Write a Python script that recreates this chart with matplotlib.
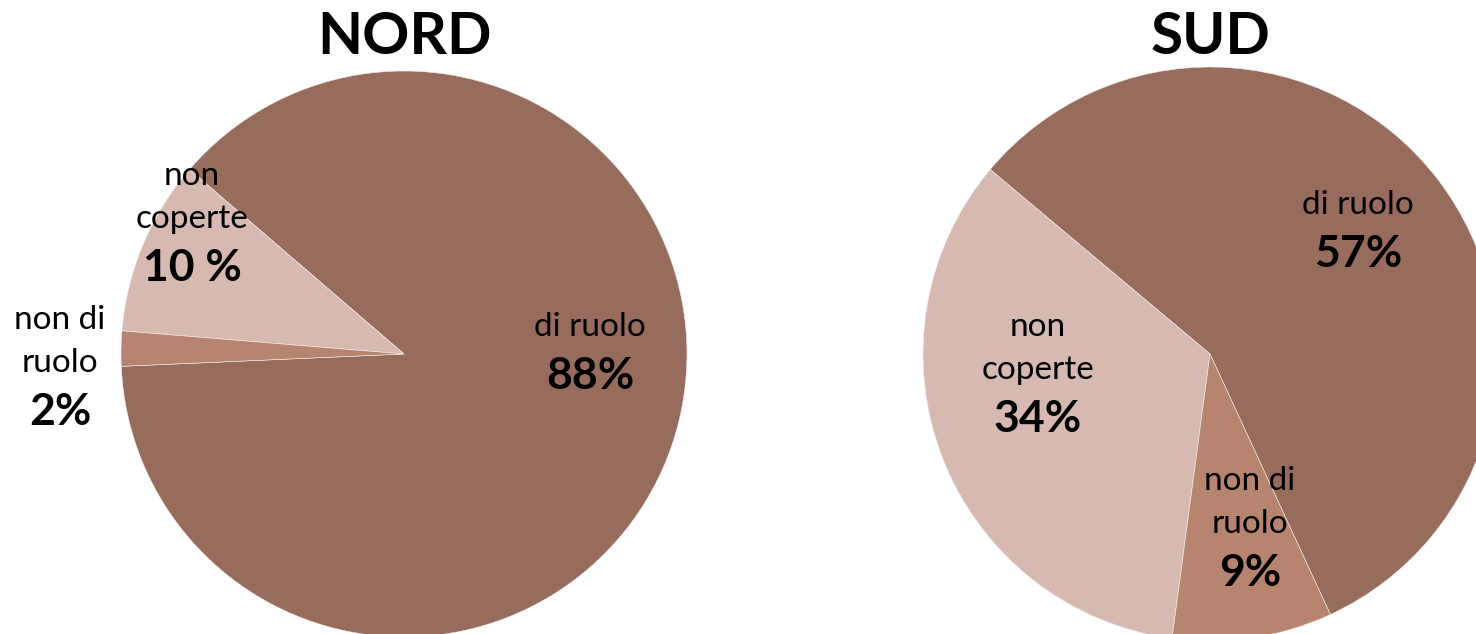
import matplotlib
matplotlib.use("Agg")
import matplotlib.pyplot as plt

# data
categories = ["di ruolo", "non coperte", "non di ruolo"]
nord_values = [88, 10, 2]
sud_values = [57, 34, 9]
nord_labels = ["di ruolo\n88%", "non\ncoperte\n10 %", "non di\nruolo\n2%"]
sud_labels = ["di ruolo\n57%", "non\ncoperte\n34%", "non di\nruolo\n9%"]

colors = ["#976c5d", "#d6bab2", "#b6846f"]

plt.rcParams['font.family'] = ['Lato', 'DejaVu Sans']

W, H = 1476, 634
fig = plt.figure(figsize=(W / 100, H / 100), dpi=100)
ax = fig.add_axes([0, 0, 1, 1])

# pies drawn in pixel-like data space (y up)
ax.pie(nord_values, colors=colors, startangle=182.5, counterclock=True,
       center=(404, H - 354), radius=283,
       wedgeprops=dict(edgecolor="#f4eeec", linewidth=0.4))
ax.pie(sud_values, colors=colors, startangle=294.8, counterclock=True,
       center=(1210, H - 354), radius=287,
       wedgeprops=dict(edgecolor="#f4eeec", linewidth=0.4))

ax.set_xlim(0, W)
ax.set_ylim(0, H)
ax.set_aspect("equal")
ax.axis("off")


def put_label(x, y, text):
    # regular lines then bold percentage, top line centred at y
    lines = text.split("\n")
    for i, ln in enumerate(lines[:-1]):
        ax.text(x, H - (y + i * 43), ln, ha="center", va="center",
                fontsize=24, color="black")
    ax.text(x, H - (y + (len(lines) - 2) * 43 + 49), lines[-1], ha="center",
            va="center", fontsize=32, fontweight="bold", color="black")


nord_pos = [(590, 327), (192, 176), (60, 320)]
sud_pos = [(1358, 205), (1038, 327), (1250, 481)]
for (x, y), t in zip(nord_pos, nord_labels):
    put_label(x, y, t)
for (x, y), t in zip(sud_pos, sud_labels):
    put_label(x, y, t)

ax.text(405, H - 38, "NORD", ha="center", va="center", fontsize=42,
        fontweight="bold")
ax.text(1211, H - 38, "SUD", ha="center", va="center", fontsize=42,
        fontweight="bold")

fig.savefig("out.png", dpi=100, facecolor="white")
